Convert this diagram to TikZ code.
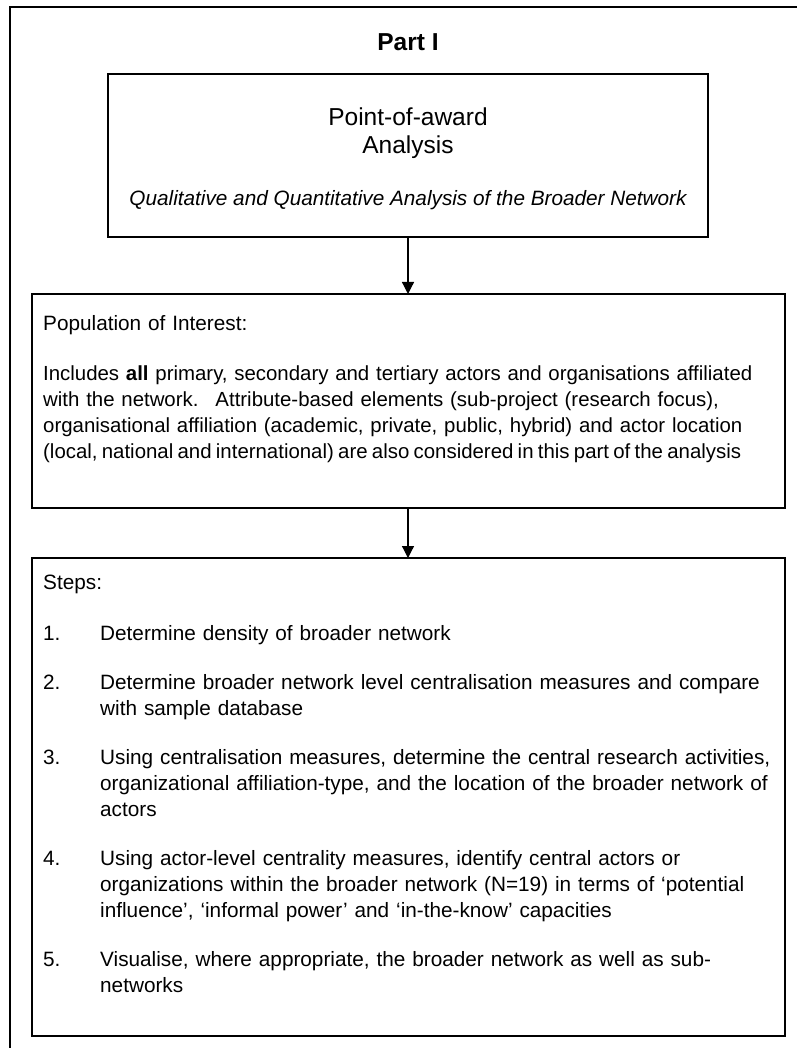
\documentclass[tikz,border=0pt]{standalone}
\usepackage{fontspec}
\setmainfont{Liberation Sans}
\usetikzlibrary{arrows.meta}
\hyphenpenalty=10000
\exhyphenpenalty=10000

\begin{document}
\begin{tikzpicture}[x=1pt,y=-1pt,
  box/.style={draw=black, line width=1.2pt, rectangle, inner sep=0pt,
    outer sep=0pt, anchor=north west},
  arr/.style={line width=1.2pt, -{Triangle[length=12pt,width=12pt]}},
  head/.style={inner sep=0pt, anchor=base, font=\fontsize{24.5}{28}\selectfont},
  para/.style={inner sep=0pt, anchor=base west, text width=760pt, align=left,
    font=\fontsize{20.75}{26}\selectfont},
  item/.style={inner sep=0pt, anchor=base west, text width=690pt, align=left,
    font=\fontsize{20.75}{26}\selectfont},
  num/.style={inner sep=0pt, anchor=base west, font=\fontsize{20.75}{26}\selectfont}]

\useasboundingbox (0,0) rectangle (796,1048);

% outer frame of the part
\draw[line width=1.6pt] (10,7) rectangle (806,1060);

% title
\node[head, font=\fontsize{24.5}{29}\selectfont\bfseries] (title) at (408,51) {Part I};

% boxes
\node[box, minimum width=600pt, minimum height=163pt] (award) at (108,74) {};
\node[box, minimum width=753pt, minimum height=214pt] (pop) at (32,294) {};
\node[box, minimum width=753pt, minimum height=478pt] (steps) at (32,558) {};

% connectors
\draw[arr] (award.south) -- (award.south |- pop.north);
\draw[arr] (award.south |- pop.south) -- (award.south |- steps.north);

% point-of-award box
\node[head, text width=400pt, align=center] (awardtitle) at (408,126)
  {Point-of-award\\Analysis};
\node[inner sep=0pt, anchor=base, font=\fontsize{20.75}{26}\selectfont\itshape]
  (awardsub) at (408,206)
  {Qualitative and Quantitative Analysis of the Broader Network};

% population box
\node[para] (poph) at (43,330) {Population of Interest:};
\node[para, font=\fontsize{20.4}{26}\selectfont] (poptext) at (43,380)
  {Includes \textbf{all} primary, secondary and tertiary actors and organisations affiliated\\
   with the network.~ Attribute-based elements (sub-project (research focus),\\
   organisational affiliation (academic, private, public, hybrid) and actor location\\
   {\spaceskip=4.3pt (local, national and international) are also considered in this part of the analysis}};

% steps box
\node[para] (stepsh) at (43,589) {Steps:};

\node[num] (n1) at (43,640) {1.};
\node[item] (s1) at (100,640) {Determine density of broader network};

\node[num] (n2) at (43,689) {2.};
\node[item] (s2) at (100,689)
  {Determine broader network level centralisation measures and compare\\
   with sample database};

\node[num] (n3) at (43,764) {3.};
\node[item] (s3) at (100,764)
  {Using centralisation measures, determine the central research activities,\\
   organizational affiliation-type, and the location of the broader network of\\
   actors};

\node[num] (n4) at (43,865) {4.};
\node[item] (s4) at (100,865)
  {Using actor-level centrality measures, identify central actors or\\
   organizations within the broader network (N=19) in terms of ‘potential\\
   influence’, ‘informal power’ and ‘in-the-know’ capacities};

\node[num] (n5) at (43,966) {5.};
\node[item] (s5) at (100,966)
  {Visualise, where appropriate, the broader network as well as sub-\\
   networks};
\end{tikzpicture}
\end{document}
